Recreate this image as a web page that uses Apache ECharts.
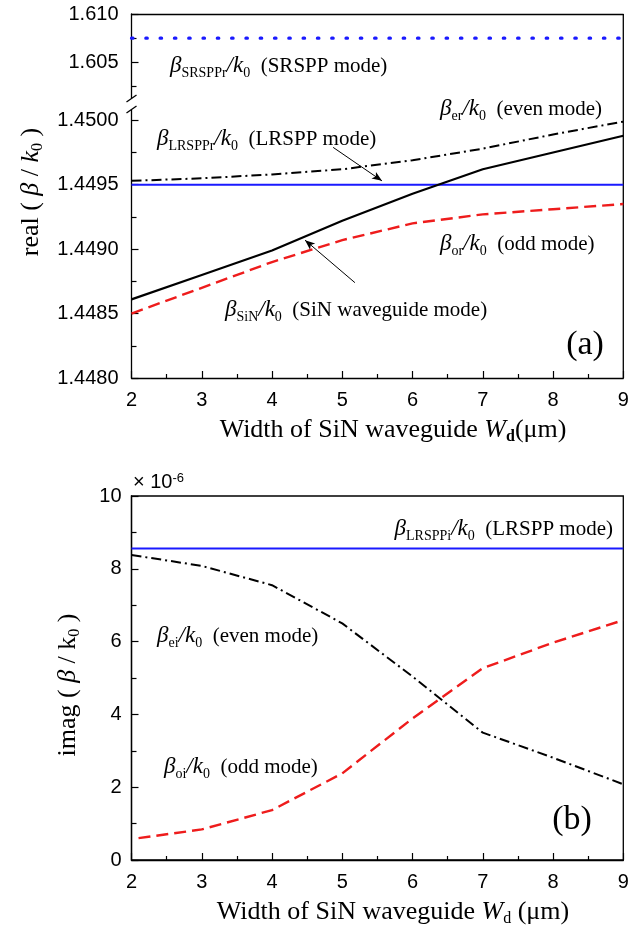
<!DOCTYPE html>
<html>
<head>
<meta charset="utf-8">
<title>SiN waveguide modes</title>
<script src="https://cdn.jsdelivr.net/npm/echarts@6/dist/echarts.min.js"></script>
<style>
  html, body { margin: 0; padding: 0; background: #fff; }
  #chart { width: 641px; height: 931px; }
</style>
</head>
<body>
<div id="chart"></div>
<script>
// ---- data ----
var widthA = [2, 3, 4, 5, 6, 7, 8, 9];
var srsppReal = [1.6075, 1.6075, 1.6075, 1.6075, 1.6075, 1.6075, 1.6075, 1.6075];
var lrsppReal = [1.44950, 1.44950, 1.44950, 1.44950, 1.44950, 1.44950, 1.44950, 1.44950];
var evenReal = [1.44953, 1.44955, 1.44958, 1.44962, 1.44969, 1.44978, 1.44989, 1.44999];
var sinReal = [1.44861, 1.44880, 1.44899, 1.44922, 1.44943, 1.44962, 1.44975, 1.44988];
var oddReal = [1.44850, 1.44870, 1.44890, 1.44907, 1.44920, 1.44927, 1.44931, 1.44935];

var widthEvenB = [2, 3, 4, 5, 6, 7, 8, 9];
var widthOddB = [2.1, 3, 4, 5, 6, 7, 8, 9];
var lrsppImag = [8.56, 8.56, 8.56, 8.56, 8.56, 8.56, 8.56, 8.56];
var evenImag = [8.38, 8.08, 7.55, 6.50, 5.04, 3.50, 2.81, 2.08];
var oddImag = [0.60, 0.84, 1.37, 2.38, 3.89, 5.27, 5.97, 6.59];

// tick values
var upperTicks = [1.605, 1.610];
var upperMinor = [1.6025, 1.6075];
var lowerTicks = [1.4480, 1.4485, 1.4490, 1.4495, 1.4500];
var lowerMinor = [1.44825, 1.44875, 1.44925, 1.44975];

// arrows (from, to) in data units of the lower part of (a)
var arrowLrspp = [[4.87, 1.44979], [5.565, 1.44953]];
var arrowSin = [[5.18, 1.44874], [4.47, 1.44907]];

// ---- layout ----
var LEFT = 131.5, RIGHT = 17.7, PW = 641 - LEFT - RIGHT;
var A_TOP = 14, A_BRK1 = 98, A_BRK2 = 110, A_BOT = 378;
var B_TOP = 496, B_BOT = 860;

var SANS = 'Liberation Sans';
var SERIF = 'Liberation Serif';

function zip(xs, ys) {
  return xs.map(function (x, i) { return [x, ys[i]]; });
}

var rich = {
  g: { fontFamily: SERIF, fontStyle: 'italic', fontSize: 23, lineHeight: 28, fill: '#000' },
  s: { fontFamily: SERIF, fontSize: 14, lineHeight: 10, verticalAlign: 'bottom', fill: '#000' },
  t: { fontFamily: SERIF, fontSize: 21, lineHeight: 28, fill: '#000' }
};
var nameRich = {
  g: { fontFamily: SERIF, fontStyle: 'italic', fontSize: 26, lineHeight: 30, fill: '#000' },
  s: { fontFamily: SERIF, fontSize: 16, lineHeight: 12, verticalAlign: 'bottom', fill: '#000' },
  sb: { fontFamily: SERIF, fontSize: 16, fontWeight: 'bold', lineHeight: 12, verticalAlign: 'bottom', fill: '#000' },
  t: { fontFamily: SERIF, fontSize: 26, lineHeight: 30, fill: '#000' }
};

function label(str, x, y, align) {
  return {
    type: 'text', x: x, y: y, silent: true,
    style: { text: str, rich: rich, fill: '#000', font: '21px ' + SERIF,
             textAlign: align || 'left', textVerticalAlign: 'middle' }
  };
}
function nameText(str, x, y, rot) {
  return {
    type: 'text', x: x, y: y, rotation: rot || 0, silent: true,
    style: { text: str, rich: nameRich, fill: '#000', font: '26px ' + SERIF,
             textAlign: 'center', textVerticalAlign: 'middle' }
  };
}
function seg(x1, y1, x2, y2) {
  return { type: 'line', silent: true, shape: { x1: x1, y1: y1, x2: x2, y2: y2 },
           style: { stroke: '#000', lineWidth: 1.3 } };
}

var tickLabel = { color: '#000', fontFamily: SANS, fontSize: 20 };
var axisLine = { show: true, lineStyle: { color: '#000', width: 1.3 } };

function modeLine(color, width, type) {
  return { color: color, width: width, type: type, cap: 'butt' };
}

var dashDot = [10, 4, 2, 4];
var dashed = [12, 6];
var dotted = [1.5, 12.8];

var chart = echarts.init(document.getElementById('chart'), null, { renderer: 'canvas' });

var option = {
  animation: false,
  backgroundColor: '#fff',
  grid: [
    { left: LEFT, right: RIGHT, top: A_TOP, height: A_BRK1 - A_TOP, outerBoundsMode: 'none' },
    { left: LEFT, right: RIGHT, top: A_BRK2, height: A_BOT - A_BRK2, outerBoundsMode: 'none' },
    { left: LEFT, right: RIGHT, top: B_TOP, height: B_BOT - B_TOP, outerBoundsMode: 'none',
      show: true, borderColor: '#000', borderWidth: 1.3 }
  ],
  xAxis: [
    { gridIndex: 0, type: 'value', min: 2, max: 9, position: 'top', axisLine: axisLine,
      axisTick: { show: false }, axisLabel: { show: false }, splitLine: { show: false } },
    { gridIndex: 1, type: 'value', min: 2, max: 9, interval: 1, position: 'bottom', axisLine: axisLine,
      axisTick: { inside: true, length: 7, lineStyle: { color: '#000', width: 1.2 } },
      minorTick: { show: true, splitNumber: 2, length: 4, lineStyle: { color: '#000', width: 1.2 } },
      axisLabel: Object.assign({ margin: 12 }, tickLabel), splitLine: { show: false } },
    { gridIndex: 2, type: 'value', min: 2, max: 9, interval: 1, position: 'bottom', axisLine: axisLine,
      axisTick: { inside: true, length: 7, lineStyle: { color: '#000', width: 1.2 } },
      minorTick: { show: true, splitNumber: 2, length: 4, lineStyle: { color: '#000', width: 1.2 } },
      axisLabel: Object.assign({ margin: 12 }, tickLabel), splitLine: { show: false } }
  ],
  yAxis: [
    // upper part of (a)
    { gridIndex: 0, type: 'value', position: 'left', min: 1.6013, max: 1.610, axisLine: axisLine,
      axisTick: { inside: true, length: 7, customValues: upperTicks, lineStyle: { color: '#000', width: 1.2 } },
      axisLabel: Object.assign({ margin: 13, customValues: upperTicks,
        formatter: function (v) { return v.toFixed(3); } }, tickLabel),
      splitLine: { show: false } },
    { gridIndex: 0, type: 'value', position: 'left', min: 1.6013, max: 1.610, axisLine: { show: false },
      axisTick: { inside: true, length: 5, customValues: upperMinor, lineStyle: { color: '#000', width: 1.2 } },
      axisLabel: { show: false }, splitLine: { show: false } },
    // lower part of (a)
    { gridIndex: 1, type: 'value', position: 'left', min: 1.448, max: 1.45008, axisLine: axisLine,
      axisTick: { inside: true, length: 7, customValues: lowerTicks, lineStyle: { color: '#000', width: 1.2 } },
      axisLabel: Object.assign({ margin: 13, customValues: lowerTicks,
        formatter: function (v) { return v.toFixed(4); } }, tickLabel),
      splitLine: { show: false } },
    { gridIndex: 1, type: 'value', position: 'left', min: 1.448, max: 1.45008, axisLine: { show: false },
      axisTick: { inside: true, length: 5, customValues: lowerMinor, lineStyle: { color: '#000', width: 1.2 } },
      axisLabel: { show: false }, splitLine: { show: false } },
    // (b)
    { gridIndex: 2, type: 'value', position: 'left', min: 0, max: 10, interval: 2, axisLine: axisLine,
      axisTick: { inside: true, length: 7, lineStyle: { color: '#000', width: 1.2 } },
      minorTick: { show: true, splitNumber: 2, length: 5, lineStyle: { color: '#000', width: 1.2 } },
      axisLabel: Object.assign({ margin: 10 }, tickLabel), splitLine: { show: false } }
  ],
  series: [
    { name: 'SRSPPr', type: 'line', xAxisIndex: 0, yAxisIndex: 0, showSymbol: false, silent: true,
      data: zip(widthA, srsppReal), lineStyle: { color: '#1a1aff', width: 3.2, type: dotted, cap: 'round' } },
    { name: 'LRSPPr', type: 'line', xAxisIndex: 1, yAxisIndex: 2, showSymbol: false, silent: true,
      data: zip(widthA, lrsppReal), lineStyle: modeLine('#1a1aff', 2, 'solid') },
    { name: 'even r', type: 'line', xAxisIndex: 1, yAxisIndex: 2, showSymbol: false, silent: true,
      data: zip(widthA, evenReal), lineStyle: modeLine('#000', 2, dashDot) },
    { name: 'SiN', type: 'line', xAxisIndex: 1, yAxisIndex: 2, showSymbol: false, silent: true,
      data: zip(widthA, sinReal), lineStyle: modeLine('#000', 2.2, 'solid'),
      markLine: {
        silent: true, animation: false,
        symbol: ['none', 'arrow'], symbolSize: [6, 10],
        label: { show: false },
        lineStyle: { color: '#000', width: 1, type: 'solid' },
        emphasis: { disabled: true },
        data: [
          [{ coord: arrowLrspp[0] }, { coord: arrowLrspp[1] }],
          [{ coord: arrowSin[0] }, { coord: arrowSin[1] }]
        ]
      } },
    { name: 'odd r', type: 'line', xAxisIndex: 1, yAxisIndex: 2, showSymbol: false, silent: true,
      data: zip(widthA, oddReal), lineStyle: modeLine('#ee1c1c', 2.4, dashed) },

    { name: 'LRSPPi', type: 'line', xAxisIndex: 2, yAxisIndex: 4, showSymbol: false, silent: true,
      data: zip(widthEvenB, lrsppImag), lineStyle: modeLine('#1a1aff', 2, 'solid') },
    { name: 'even i', type: 'line', xAxisIndex: 2, yAxisIndex: 4, showSymbol: false, silent: true,
      data: zip(widthEvenB, evenImag), lineStyle: modeLine('#000', 2, dashDot) },
    { name: 'odd i', type: 'line', xAxisIndex: 2, yAxisIndex: 4, showSymbol: false, silent: true,
      data: zip(widthOddB, oddImag), lineStyle: modeLine('#ee1c1c', 2.4, dashed) }
  ],
  graphic: [
    // frame of (a): right border and the axis break marks
    seg(LEFT + PW, A_TOP, LEFT + PW, A_BOT),
    seg(LEFT - 5, A_BRK1 + 4, LEFT + 5, A_BRK1 - 3),
    seg(LEFT - 5, A_BRK2 + 3, LEFT + 5, A_BRK2 - 4),

    label('{g|β}{s|SRSPPr}{g|/k}{s|0}{t|  (SRSPP mode)}', 170, 66),
    label('{g|β}{s|er}{g|/k}{s|0}{t|  (even mode)}', 440, 109),
    label('{g|β}{s|LRSPPr}{g|/k}{s|0}{t|  (LRSPP mode)}', 157, 139),
    label('{g|β}{s|or}{g|/k}{s|0}{t|  (odd mode)}', 440, 244),
    label('{g|β}{s|SiN}{g|/k}{s|0}{t|  (SiN waveguide mode)}', 225, 310),
    { type: 'text', x: 585, y: 345, silent: true,
      style: { text: '(a)', font: '34px ' + SERIF, fill: '#000', textAlign: 'center', textVerticalAlign: 'middle' } },

    label('{g|β}{s|LRSPPi}{g|/k}{s|0}{t|  (LRSPP mode)}', 613, 529, 'right'),
    label('{g|β}{s|ei}{g|/k}{s|0}{t|  (even mode)}', 157, 636),
    label('{g|β}{s|oi}{g|/k}{s|0}{t|  (odd mode)}', 164, 767),
    { type: 'text', x: 572, y: 820, silent: true,
      style: { text: '(b)', font: '34px ' + SERIF, fill: '#000', textAlign: 'center', textVerticalAlign: 'middle' } },
    { type: 'text', x: 133, y: 482, silent: true,
      style: { text: '× 10{p|-6}', font: '20px ' + SANS, fill: '#000', textAlign: 'left', textVerticalAlign: 'middle',
               rich: { p: { fontFamily: SANS, fontSize: 13, lineHeight: 8, verticalAlign: 'top', fill: '#000' } } } },

    // axis titles
    nameText('real ( {g|β} / {g|k}{s|0} )', 31, 192, Math.PI / 2),
    nameText('Width of SiN waveguide {g|W}{sb|d}(μm)', 393, 430),
    nameText('imag ( {g|β} / k{s|0} )', 68, 685, Math.PI / 2),
    nameText('Width of SiN waveguide {g|W}{s|d} (μm)', 393, 912)
  ]
};

chart.setOption(option);
</script>
</body>
</html>
